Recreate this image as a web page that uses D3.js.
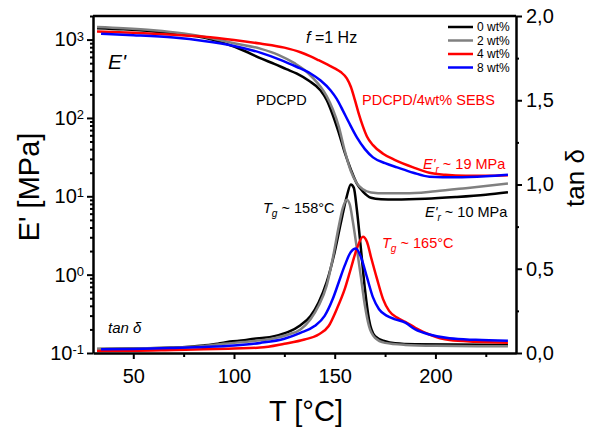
<!DOCTYPE html>
<html>
<head>
<meta charset="utf-8">
<script src="https://cdn.jsdelivr.net/npm/d3@7"></script>
<style>
body { margin: 0; background: #fff; }
svg text { font-family: "Liberation Sans", Arial, sans-serif; }
.axis path, .axis line { stroke: #000; }
</style>
</head>
<body>
<div id="chartDiv"></div>
<script>
// series names and colours
var seriesNames = ["0 wt%", "2 wt%", "4 wt%", "8 wt%"];
var seriesColors = ["#000000", "#808080", "#ff0000", "#0000ff"];

// storage modulus E' [MPa] vs T [°C]
var tE0 = [32, 45, 60, 75, 85, 95, 105, 113, 120, 126, 131, 137, 143, 146, 149, 152, 155, 158, 161, 164, 168, 173, 180, 195, 210, 225, 236];
var E0  = [1400, 1350, 1270, 1160, 1060, 900, 720, 580, 490, 420, 370, 300, 224, 170, 110, 65, 36, 22, 14.5, 11.5, 9.6, 9.2, 9.1, 9.3, 9.8, 10.5, 11.3];
var tE2 = [32, 45, 60, 75, 85, 100, 113, 122, 130, 135, 139, 143, 146, 149, 152, 155, 158, 161, 164, 168, 175, 185, 200, 215, 236];
var E2  = [1450, 1400, 1320, 1200, 1090, 900, 767, 640, 500, 410, 328, 250, 190, 130, 78, 38, 21, 14.6, 12.3, 11.2, 10.9, 10.9, 11.6, 12.7, 14.6];
var tE4 = [32, 50, 70, 85, 100, 113, 125, 133, 138, 142, 146, 150, 153, 156, 158, 160, 162, 164, 166, 169, 174, 180, 189, 197, 205, 215, 225, 236];
var E4  = [1265, 1220, 1150, 1090, 990, 890, 790, 690, 610, 545, 485, 430, 385, 320, 250, 170, 112, 78, 58, 45, 35, 29, 23.4, 20, 18.8, 18.3, 18.3, 18.6];
var tE8 = [34, 50, 70, 85, 100, 113, 124, 131, 138, 143, 148, 151, 154, 157, 161, 165, 169, 175, 181, 189, 197, 210, 225, 236];
var E8  = [1190, 1140, 1060, 960, 830, 682, 540, 450, 369, 300, 224, 175, 125, 88, 56.5, 40, 31.4, 26.5, 23.4, 20, 17.8, 17.5, 18, 18.8];

// loss factor tan delta vs T [°C]
var tD0 = [32, 50, 70, 85, 92, 98, 105, 110, 115, 120, 127, 133, 138, 142, 146, 150, 153, 156, 158, 159.5, 161, 163, 165, 167, 170, 175, 180, 190, 210, 236];
var D0  = [0.024, 0.026, 0.032, 0.045, 0.055, 0.068, 0.075, 0.085, 0.09, 0.1, 0.125, 0.165, 0.22, 0.3, 0.42, 0.6, 0.77, 0.93, 1.0, 0.98, 0.85, 0.62, 0.38, 0.2, 0.1, 0.07, 0.058, 0.052, 0.05, 0.047];
var tD2 = [32, 50, 70, 85, 95, 105, 113, 120, 127, 133, 138, 142, 146, 149, 152, 154, 156, 157.5, 159, 161, 163, 165, 167, 170, 175, 185, 200, 236];
var D2  = [0.024, 0.026, 0.032, 0.042, 0.055, 0.065, 0.075, 0.088, 0.11, 0.14, 0.2, 0.28, 0.4, 0.56, 0.75, 0.86, 0.91, 0.88, 0.78, 0.62, 0.45, 0.28, 0.16, 0.09, 0.06, 0.048, 0.043, 0.04];
var tD4 = [32, 50, 70, 85, 100, 113, 125, 135, 142, 147, 151, 155, 158, 161, 164, 166, 168, 171, 174, 177, 181, 185, 190, 197, 207, 220, 236];
var D4  = [0.012, 0.013, 0.018, 0.022, 0.027, 0.032, 0.055, 0.08, 0.11, 0.16, 0.26, 0.38, 0.5, 0.62, 0.69, 0.66, 0.57, 0.44, 0.32, 0.25, 0.21, 0.185, 0.15, 0.11, 0.077, 0.067, 0.061];
var tD8 = [34, 50, 70, 85, 100, 113, 125, 133, 140, 145, 149, 152, 155, 158, 160.5, 163, 166, 169, 172, 176, 180, 185, 190, 197, 207, 220, 236];
var D8  = [0.022, 0.024, 0.03, 0.036, 0.045, 0.06, 0.085, 0.12, 0.16, 0.22, 0.32, 0.42, 0.52, 0.6, 0.62, 0.57, 0.45, 0.33, 0.26, 0.22, 0.2, 0.18, 0.14, 0.11, 0.087, 0.078, 0.073];

// tick values
var xMajor = [50, 100, 150, 200];
var xMinor = [75, 125, 175, 225];
var eMajor = [0.1, 1, 10, 100, 1000];
var dMajor = [0, 0.5, 1.0, 1.5, 2.0];
var dMinor = [0.25, 0.75, 1.25, 1.75];

var eCurves = [[tE0, E0], [tE2, E2], [tE4, E4], [tE8, E8]];
var dCurves = [[tD0, D0], [tD2, D2], [tD4, D4], [tD8, D8]];

var margin = {top: 16, right: 74, bottom: 82, left: 93},
    width = 590 - margin.left - margin.right,
    height = 435 - margin.top - margin.bottom;

var x = d3.scaleLinear().domain([30, 240]).range([0, width]);
var yE = d3.scaleLog().domain([0.1, 2000]).range([height, 0]);
var yD = d3.scaleLinear().domain([0, 2]).range([height, 0]);

var svg = d3.select("#chartDiv")
    .append("svg")
    .attr("width", 590)
    .attr("height", 435)
    .append("g")
    .attr("transform", "translate(" + margin.left + "," + margin.top + ")");

svg.append("clipPath").attr("id", "clip")
    .append("rect").attr("width", width).attr("height", height);

// curves
var lineE = d3.line()
    .x(function(d) { return x(d[0]); })
    .y(function(d) { return yE(d[1]); })
    .curve(d3.curveMonotoneX);
var lineD = d3.line()
    .x(function(d) { return x(d[0]); })
    .y(function(d) { return yD(d[1]); })
    .curve(d3.curveMonotoneX);

var plot = svg.append("g").attr("clip-path", "url(#clip)");
[[eCurves, lineE], [dCurves, lineD]].forEach(function(set) {
    set[0].forEach(function(c, i) {
        plot.append("path")
            .attr("d", set[1](d3.zip(c[0], c[1])))
            .attr("fill", "none")
            .attr("stroke", seriesColors[i])
            .attr("stroke-width", 2.5);
    });
});

// frame
svg.append("line").attr("x1", 0).attr("x2", width).attr("y1", 0).attr("y2", 0)
    .attr("stroke", "#000").attr("stroke-width", 2.5);

// bottom axis
svg.append("g").attr("class", "axis")
    .attr("transform", "translate(0," + height + ")")
    .call(d3.axisBottom(x).tickValues(xMajor).tickSize(6).tickPadding(10).tickSizeOuter(0));
svg.append("g").attr("class", "axis")
    .attr("transform", "translate(0," + height + ")")
    .call(d3.axisBottom(x).tickValues(xMinor).tickSize(4).tickFormat("").tickSizeOuter(0))
    .select(".domain").remove();

// left log axis
var eMinor = [];
eMajor.forEach(function(v) { for (var k = 2; k <= 9; k++) if (v * k <= 2000) eMinor.push(v * k); });
var yAx = svg.append("g").attr("class", "axis")
    .call(d3.axisLeft(yE).tickValues(eMajor).tickSize(6).tickPadding(3).tickSizeOuter(0));
yAx.selectAll(".tick text").each(function(d) {
    var t = d3.select(this).text("");
    t.append("tspan").text("10");
    t.append("tspan").attr("dy", "-0.45em").attr("font-size", "13px").text(Math.round(Math.log10(d)));
});
svg.append("g").attr("class", "axis")
    .call(d3.axisLeft(yE).tickValues(eMinor).tickSize(3).tickFormat("").tickSizeOuter(0))
    .select(".domain").remove();

// right axis
svg.append("g").attr("class", "axis")
    .attr("transform", "translate(" + width + ",0)")
    .call(d3.axisRight(yD).tickValues(dMajor).tickSize(6).tickPadding(4).tickSizeOuter(0)
        .tickFormat(function(d) { return d3.format(".1f")(d).replace(".", ","); }));
svg.append("g").attr("class", "axis")
    .attr("transform", "translate(" + width + ",0)")
    .call(d3.axisRight(yD).tickValues(dMinor).tickSize(3).tickFormat("").tickSizeOuter(0))
    .select(".domain").remove();

svg.selectAll(".axis .domain").attr("stroke-width", 2.5);
svg.selectAll(".axis .tick line").attr("stroke-width", 2);
svg.selectAll(".axis text").attr("font-size", "20px").attr("fill", "#000")
    .attr("font-family", "'Liberation Sans', Arial, sans-serif");

// axis titles
var root = d3.select("#chartDiv svg");
root.append("text").attr("x", 306).attr("y", 421).attr("text-anchor", "middle")
    .attr("font-size", "29px").text("T [°C]");
root.append("text").attr("transform", "translate(39,187) rotate(-90)").attr("text-anchor", "middle")
    .attr("font-size", "29px").text("E' [MPa]");
root.append("text").attr("transform", "translate(584,178) rotate(-90)").attr("text-anchor", "middle")
    .attr("font-size", "26px").text("tan δ");

// legend
var leg = root.append("g");
seriesNames.forEach(function(name, i) {
    var yy = 27 + i * 13.5;
    leg.append("line").attr("x1", 448).attr("x2", 473).attr("y1", yy).attr("y2", yy)
        .attr("stroke", seriesColors[i]).attr("stroke-width", 2.5);
    leg.append("text").attr("x", 477).attr("y", yy).attr("dy", "0.35em")
        .attr("font-size", "12px").text(name);
});

// annotations
function note(xp, yp, size, color, parts) {
    var t = root.append("text").attr("x", xp).attr("y", yp)
        .attr("font-size", size + "px").attr("fill", color);
    parts.forEach(function(p) {
        var s = t.append("tspan").text(p.s);
        if (p.i) s.attr("font-style", "italic");
        if (p.small) s.attr("font-size", (size * 0.7) + "px");
        if (p.dy) s.attr("dy", p.dy);
    });
}
note(306, 43, 16, "#000", [{s: "f", i: 1}, {s: " =1 Hz"}]);
note(108, 69, 21, "#000", [{s: "E'", i: 1}]);
note(256, 105, 14.5, "#000", [{s: "PDCPD"}]);
note(362, 105, 14.5, "#ff0000", [{s: "PDCPD/4wt% SEBS"}]);
note(423, 169, 14.5, "#ff0000", [{s: "E'", i: 1}, {s: "r", i: 1, small: 1, dy: 4}, {s: " ~ 19 MPa", dy: -4}]);
note(425, 217, 14.5, "#000", [{s: "E'", i: 1}, {s: "r", i: 1, small: 1, dy: 4}, {s: " ~ 10 MPa", dy: -4}]);
note(263, 213, 14.5, "#000", [{s: "T", i: 1}, {s: "g", i: 1, small: 1, dy: 4}, {s: " ~ 158°C", dy: -4}]);
note(382, 248, 14.5, "#ff0000", [{s: "T", i: 1}, {s: "g", i: 1, small: 1, dy: 4}, {s: " ~ 165°C", dy: -4}]);
note(108, 333, 15, "#000", [{s: "tan δ", i: 1}]);
</script>
</body>
</html>
